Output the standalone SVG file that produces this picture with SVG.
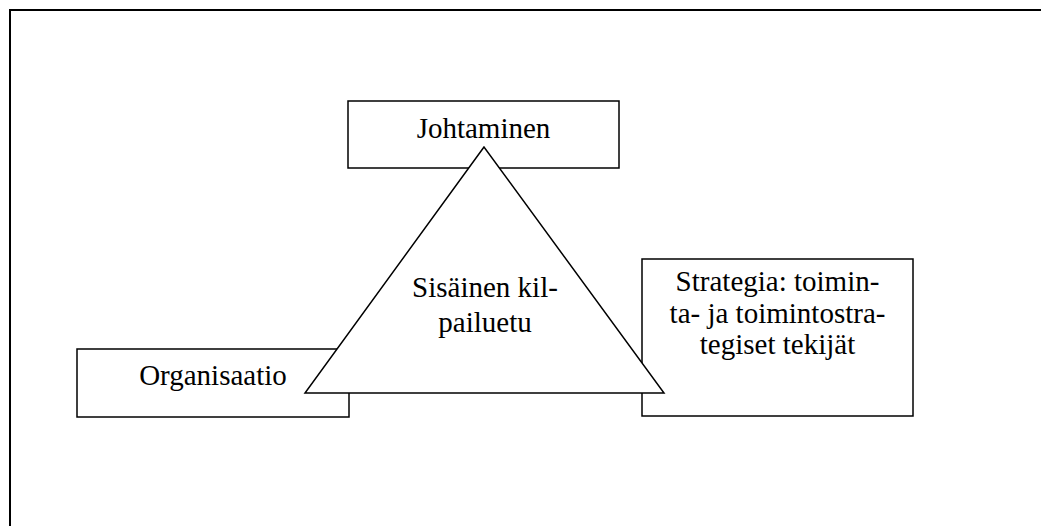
<svg xmlns="http://www.w3.org/2000/svg" width="1041" height="526" viewBox="0 0 1041 526">
<style>
.box{fill:#fff;stroke:#000;stroke-width:1.5}
.frame{fill:none;stroke:#000;stroke-width:2}
.t{font-family:"Liberation Serif","Times New Roman",serif;font-size:29px;fill:#000;text-anchor:middle}
</style>
<rect width="1041" height="526" fill="#fff"/>
<path class="frame" d="M10,530 V10 H1045"/>
<g id="johtaminen">
<rect class="box" x="348" y="101" width="271" height="67"/>
<text class="t" x="483.5" y="138">Johtaminen</text>
</g>
<g id="organisaatio">
<rect class="box" x="77" y="349" width="272" height="68"/>
<text class="t" x="213" y="385">Organisaatio</text>
</g>
<g id="strategia">
<rect class="box" x="642" y="259" width="271" height="157"/>
<text class="t" x="777.5" y="291">Strategia: toimin-</text>
<text class="t" x="777.5" y="323">ta- ja toimintostra-</text>
<text class="t" x="777.5" y="354">tegiset tekijät</text>
</g>
<g id="kilpailuetu">
<polygon class="box" points="484,147 305,393 664,393"/>
<text class="t" x="485" y="297">Sisäinen kil-</text>
<text class="t" x="485" y="332">pailuetu</text>
</g>
<g id="connectors"></g>
</svg>
